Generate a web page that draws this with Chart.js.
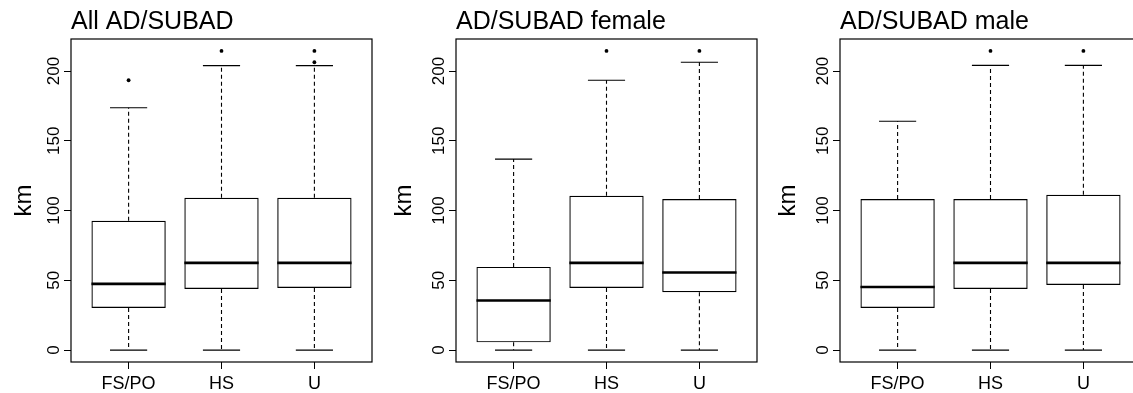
<!DOCTYPE html>
<html>
<head>
<meta charset="utf-8">
<script src="https://cdn.jsdelivr.net/npm/chart.js@4"></script>
<style>
html, body { margin: 0; padding: 0; background: #fff; overflow: hidden; width: 1133px; height: 393px; }
canvas { position: absolute; top: 0; }
</style>
</head>
<body>
<canvas id="p1" width="377" height="393" style="left:0px"></canvas>
<canvas id="p2" width="377" height="393" style="left:385px"></canvas>
<canvas id="p3" width="377" height="393" style="left:769px"></canvas>
<script>
const groups = ['FS/PO', 'HS', 'U'];
const yTicks = [0, 50, 100, 150, 200];

// All AD/SUBAD (km)
const allLow = [0, 0, 0];
const allQ1 = [30.2, 43.8, 44.5];
const allMed = [47.4, 62.5, 62.5];
const allQ3 = [92.6, 109.1, 109.1];
const allHigh = [173.7, 203.9, 203.9];
const allOut = [[193.4], [214.4], [214.4, 206.3]];

// AD/SUBAD female
const femLow = [0, 0, 0];
const femQ1 = [5.5, 44.5, 41.4];
const femMed = [35.5, 62.5, 55.6];
const femQ3 = [59.6, 110.6, 108.2];
const femHigh = [136.9, 193.4, 206.3];
const femOut = [[], [214.4], [214.4]];

// AD/SUBAD male
const maleLow = [0, 0, 0];
const maleQ1 = [30.2, 43.8, 46.7];
const maleMed = [45.2, 62.5, 62.5];
const maleQ3 = [108.2, 108.2, 111.3];
const maleHigh = [164, 204, 204];
const maleOut = [[], [214.4], [214.4]];

const FONT = '"Liberation Sans", Arial, Helvetica, sans-serif';
const BOX_HALF = 0.4;   // R boxwex 0.8
const CAP_HALF = 0.2;   // staplewex 0.5

// R style axis limits: data range widened by 4% each side
const yMax = 214.4;
const yMin = 0;
const yPad = (yMax - yMin) * 0.04;
const xPad = (groups.length) * 0.04;

function hSegs(vals, half) {
  const out = [];
  vals.forEach((v, i) => {
    out.push({x: i + 1 - half, y: v}, {x: i + 1 + half, y: v}, {x: i + 1.5, y: null});
  });
  return out;
}

function whiskers(lo, q1, q3, hi) {
  const out = [];
  lo.forEach((v, i) => {
    const x = i + 1;
    out.push({x: x, y: q3[i]}, {x: x, y: hi[i]}, {x: x, y: null});
    out.push({x: x, y: q1[i]}, {x: x, y: lo[i]}, {x: x, y: null});
  });
  return out;
}

const framePlugin = {
  id: 'frame',
  afterDraw(chart) {
    const {ctx, chartArea: a} = chart;
    const y = chart.scales.y;
    ctx.save();
    ctx.strokeStyle = '#000';
    ctx.lineWidth = 1.2;
    ctx.strokeRect(a.left, a.top, a.right - a.left, a.bottom - a.top);
    ctx.fillStyle = '#000';
    ctx.font = '17px ' + FONT;
    ctx.textAlign = 'center';
    ctx.textBaseline = 'alphabetic';
    y.ticks.forEach(t => {
      ctx.save();
      ctx.translate(a.left - 12, y.getPixelForValue(t.value));
      ctx.rotate(-Math.PI / 2);
      ctx.fillText(String(t.value), 0, 0);
      ctx.restore();
    });
    ctx.restore();
  }
};

function makeChart(id, title, lo, q1, med, q3, hi, outs, kmPad) {
  const outPoints = [];
  outs.forEach((list, i) => list.forEach(v => outPoints.push({x: i + 1, y: v})));

  new Chart(document.getElementById(id), {
    type: 'bar',
    data: {
      datasets: [
        {
          type: 'scatter',
          data: outPoints,
          pointRadius: 1.9,
          pointBackgroundColor: '#000',
          pointBorderWidth: 0
        },
        {
          type: 'line',
          data: hSegs(med, BOX_HALF),
          borderColor: '#000',
          borderWidth: 2.6,
          pointRadius: 0,
          spanGaps: false,
          borderCapStyle: 'butt'
        },
        {
          type: 'line',
          data: hSegs(hi, CAP_HALF).concat(hSegs(lo, CAP_HALF)),
          borderColor: '#000',
          borderWidth: 1.2,
          pointRadius: 0,
          spanGaps: false
        },
        {
          type: 'line',
          data: whiskers(lo, q1, q3, hi),
          borderColor: '#000',
          borderWidth: 1.1,
          borderDash: [4, 3],
          pointRadius: 0,
          spanGaps: false
        },
        {
          type: 'bar',
          data: q1.map((v, i) => ({x: i + 1, y: [v, q3[i]]})),
          backgroundColor: 'rgba(0,0,0,0)',
          borderColor: '#000',
          borderWidth: 1.2,
          borderSkipped: false,
          categoryPercentage: 0.8,
          barPercentage: 1
        }
      ]
    },
    options: {
      responsive: false,
      animation: false,
      devicePixelRatio: 1,
      layout: { padding: { left: 0, top: 0, right: 5, bottom: 0 } },
      plugins: {
        legend: { display: false },
        tooltip: { enabled: false },
        title: {
          display: true,
          text: title,
          align: 'start',
          fullSize: false,
          color: '#000',
          font: { family: FONT, size: 25, weight: 'normal', lineHeight: 1 },
          padding: { top: 10, bottom: 4 }
        }
      },
      scales: {
        x: {
          type: 'linear',
          offset: false,
          min: 1 - 0.5 - xPad,
          max: groups.length + 0.5 + xPad,
          afterBuildTicks: s => { s.ticks = groups.map((g, i) => ({value: i + 1})); },
          afterFit: s => { s.height = 31; },
          ticks: {
            autoSkip: false,
            maxRotation: 0,
            padding: 4,
            color: '#000',
            font: { family: FONT, size: 18 },
            callback: v => groups[Math.round(v) - 1]
          },
          grid: { offset: false, drawOnChartArea: false, drawTicks: true, tickLength: 7, color: '#000', lineWidth: 1 },
          border: { display: false }
        },
        y: {
          type: 'linear',
          min: yMin - yPad,
          max: yMax + yPad,
          afterBuildTicks: s => { s.ticks = yTicks.map(v => ({value: v})); },
          afterFit: s => { s.width = 71; },
          ticks: { display: false },
          grid: { drawOnChartArea: false, drawTicks: true, tickLength: 7, color: '#000', lineWidth: 1 },
          border: { display: false },
          title: {
            display: true,
            text: 'km',
            color: '#000',
            font: { family: FONT, size: 24, lineHeight: 1 },
            padding: { top: kmPad, bottom: 0 }
          }
        }
      }
    },
    plugins: [framePlugin]
  });
}

makeChart('p1', 'All AD/SUBAD', allLow, allQ1, allMed, allQ3, allHigh, allOut, 12);
makeChart('p2', 'AD/SUBAD female', femLow, femQ1, femMed, femQ3, femHigh, femOut, 7);
makeChart('p3', 'AD/SUBAD male', maleLow, maleQ1, maleMed, maleQ3, maleHigh, maleOut, 7);
</script>
</body>
</html>
